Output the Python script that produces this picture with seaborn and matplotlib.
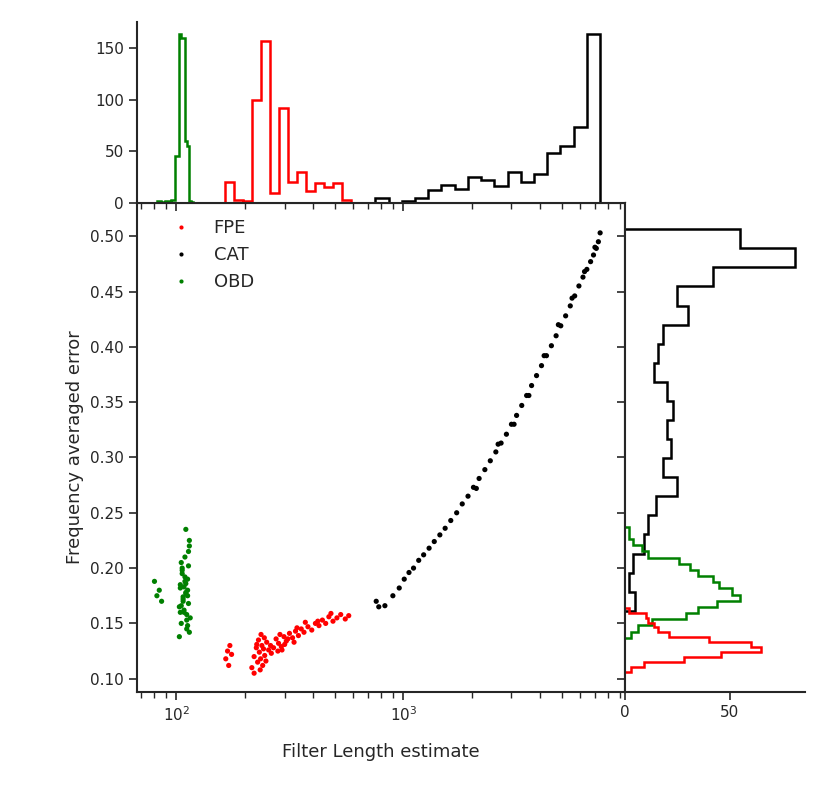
import matplotlib
matplotlib.use("Agg")
import matplotlib.pyplot as plt
import numpy as np
import pandas as pd
import seaborn as sns

# Scatter points (representative subset)
fpe_x = [165, 168, 170, 172, 175, 215, 220, 225, 228, 230, 232, 235, 238, 240, 242, 245,
         250, 255, 260, 268, 275, 282, 290, 298, 305, 315, 325, 335, 345, 355, 365, 380,
         395, 410, 425, 440, 455, 470, 490, 510, 530, 555, 575, 220, 236, 248, 262, 280,
         300, 330, 226, 234, 244, 286, 292, 310, 340, 370, 420, 480]
fpe_y = [0.118, 0.125, 0.112, 0.130, 0.122, 0.110, 0.120, 0.128, 0.115, 0.135, 0.124, 0.118,
         0.130, 0.112, 0.127, 0.121, 0.133, 0.126, 0.130, 0.128, 0.136, 0.132, 0.129, 0.138,
         0.134, 0.141, 0.137, 0.143, 0.139, 0.145, 0.142, 0.147, 0.144, 0.150, 0.148, 0.153,
         0.150, 0.156, 0.152, 0.155, 0.158, 0.154, 0.157, 0.105, 0.140, 0.116, 0.123, 0.125,
         0.131, 0.133, 0.131, 0.108, 0.137, 0.140, 0.126, 0.136, 0.146, 0.151, 0.152, 0.159]
cat_x = [760, 780, 830, 900, 960, 1010, 1060, 1110, 1170, 1230, 1300, 1370, 1450, 1530, 1620,
         1720, 1820, 1930, 2040, 2160, 2290, 2420, 2560, 2700, 2850, 3000, 3160, 3330, 3500,
         3680, 3870, 4070, 4280, 4500, 4720, 4950, 5200, 5450, 5700, 5950, 6200, 6450, 6700,
         6900, 7100, 7250, 7380, 2100, 2620, 3080, 3580, 4180, 4830, 5550, 6300, 7000]
cat_y = [0.170, 0.165, 0.166, 0.175, 0.182, 0.190, 0.196, 0.200, 0.207, 0.212, 0.218, 0.224,
         0.230, 0.236, 0.243, 0.250, 0.258, 0.265, 0.273, 0.281, 0.289, 0.297, 0.305, 0.313,
         0.321, 0.330, 0.338, 0.347, 0.356, 0.365, 0.374, 0.383, 0.392, 0.401, 0.410, 0.419,
         0.428, 0.437, 0.446, 0.455, 0.463, 0.470, 0.477, 0.483, 0.489, 0.495, 0.503, 0.272,
         0.312, 0.330, 0.356, 0.392, 0.420, 0.444, 0.468, 0.490]
obd_x = [80, 82, 84, 86, 103, 104, 105, 106, 107, 108, 109, 110, 111, 112, 113, 114, 115,
         104, 106, 108, 110, 112, 114, 105, 107, 109, 111, 113, 103, 106, 108, 110, 112,
         114, 105, 109, 111, 113, 107, 110, 104, 112]
obd_y = [0.188, 0.175, 0.180, 0.170, 0.165, 0.185, 0.150, 0.200, 0.172, 0.160, 0.210, 0.178,
         0.145, 0.190, 0.168, 0.225, 0.155, 0.182, 0.198, 0.162, 0.235, 0.175, 0.142, 0.205,
         0.170, 0.188, 0.158, 0.215, 0.138, 0.195, 0.183, 0.177, 0.148, 0.220, 0.166, 0.192,
         0.153, 0.202, 0.174, 0.186, 0.160, 0.180]

# Marginal histogram counts (top: bin edges in log10 of x)
cat_top_edges = np.logspace(np.log10(753), np.log10(7380), 18)
cat_top_counts = [5, 0, 2, 5, 13, 17, 14, 25, 22, 16, 30, 20, 28, 48, 55, 73, 163]
fpe_top_edges = 10 ** np.linspace(2.216, 2.771, 15)
fpe_top_counts = [20, 3, 2, 100, 157, 10, 92, 20, 30, 12, 19, 15, 19, 3]
obd_top_edges = 10 ** np.linspace(1.907, 2.084, 21)
obd_top_counts = [0, 2, 2, 1, 1, 2, 2, 2, 3, 3, 45, 45, 163, 160, 160, 60, 55, 2, 1, 0]

cat_r_edges = np.linspace(0.1614, 0.5063, 21)
cat_r_counts = [5, 2, 4, 9, 11, 15, 25, 18, 22, 20, 23, 20, 14, 16, 18, 30, 25, 42, 81, 55]
obd_r_edges = np.linspace(0.137, 0.2373, 19)
obd_r_counts = [3, 6, 13, 29, 35, 44, 55, 51, 45, 42, 35, 31, 26, 11, 8, 4, 2, 2]
fpe_r_edges = np.linspace(0.1063, 0.1641, 14)
fpe_r_counts = [3, 9, 28, 46, 65, 60, 40, 21, 16, 14, 11, 10, 2]

df = pd.concat([
    pd.DataFrame({"x": fpe_x, "y": fpe_y, "method": "FPE"}),
    pd.DataFrame({"x": cat_x, "y": cat_y, "method": "CAT"}),
    pd.DataFrame({"x": obd_x, "y": obd_y, "method": "OBD"}),
])

sns.set_theme(style="ticks")
plt.rcParams["font.family"] = ["DejaVu Sans"]
fig = plt.figure(figsize=(8.3, 8.07), dpi=100)
W, H = 830, 807
ax = fig.add_axes([137 / W, 1 - 692 / H, (625 - 137) / W, (692 - 203) / H])
axt = fig.add_axes([137 / W, 1 - 203 / H, (625 - 137) / W, (203 - 22) / H], sharex=ax)
axr = fig.add_axes([625 / W, 1 - 692 / H, (805 - 625) / W, (692 - 203) / H], sharey=ax)

palette = {"FPE": "red", "CAT": "black", "OBD": "green"}
sns.scatterplot(data=df, x="x", y="y", hue="method", palette=palette, s=14,
                linewidth=0, ax=ax)
ax.set_xscale("log")
ax.set_xlim(67, 9500)
ax.set_ylim(0.088, 0.530)
ax.set_yticks(np.arange(0.10, 0.51, 0.05))
ax.set_xlabel("Filter Length estimate", fontsize=13, labelpad=14)
ax.set_ylabel("Frequency averaged error", fontsize=13)
ax.tick_params(labelsize=11, direction="out", width=1.2)
ax.tick_params(which="minor", length=4, width=1)
ax.legend(frameon=False, fontsize=13, markerscale=0.8, loc="upper left",
          bbox_to_anchor=(0.02, 1.0))
for s in ax.spines.values():
    s.set_linewidth(1.5)

for edges, counts, c in [(cat_top_edges, cat_top_counts, "black"),
                         (fpe_top_edges, fpe_top_counts, "red"),
                         (obd_top_edges, obd_top_counts, "green")]:
    axt.stairs(counts, edges, color=c, linewidth=1.8)
axt.set_ylim(0, 175)
axt.set_yticks([0, 50, 100, 150])
axt.tick_params(labelbottom=False, labelsize=11, width=1.2)
sns.despine(ax=axt)

for edges, counts, c in [(cat_r_edges, cat_r_counts, "black"),
                         (obd_r_edges, obd_r_counts, "green"),
                         (fpe_r_edges, fpe_r_counts, "red")]:
    axr.stairs(counts, edges, color=c, linewidth=1.8, orientation="horizontal")
axr.set_xlim(0, 86)
axr.set_xticks([0, 50])
axr.tick_params(labelleft=False, labelsize=11, width=1.2)
sns.despine(ax=axr)
for a in (axt, axr):
    for s in a.spines.values():
        s.set_linewidth(1.5)

fig.savefig("out.png", dpi=100)
